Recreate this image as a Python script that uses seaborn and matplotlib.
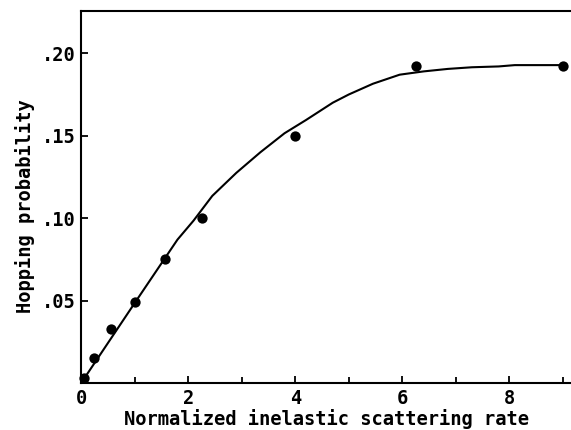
import matplotlib
matplotlib.use("Agg")
import matplotlib.pyplot as plt
import seaborn as sns
import numpy as np
import pandas as pd
from matplotlib.ticker import FixedLocator, FuncFormatter

# measured points (dots)
pts_x = [0.0625, 0.25, 0.5625, 1.0, 1.5625, 2.25, 4.0, 6.25, 9.0]
pts_y = [0.003, 0.0155, 0.033, 0.049, 0.075, 0.100, 0.150, 0.192, 0.192]

# theory curve
curve_x = [0, 1.0, 1.8, 2.1, 2.45, 2.9, 3.35, 3.8, 4.2,
           4.7, 5.0, 5.45, 5.95, 6.4, 6.85, 7.3, 7.8, 8.1, 9.0]
curve_y = [0, 0.0485, 0.087, 0.0985, 0.1135, 0.1275,
           0.140, 0.1515, 0.1595, 0.170, 0.175, 0.1815, 0.187, 0.189,
           0.1905, 0.1915, 0.192, 0.1928, 0.1928]

x_major = [0, 2, 4, 6, 8]
x_minor = [1, 3, 5, 7, 9]
y_major = [0.05, 0.10, 0.15, 0.20]

sns.set_style("ticks")
plt.rcParams['font.family'] = ['DejaVu Sans Mono']
plt.rcParams['font.weight'] = 'bold'
plt.rcParams['axes.labelcolor'] = 'black'
plt.rcParams['text.color'] = 'black'

fig = plt.figure(figsize=(5.71, 4.30), dpi=100)
ax = fig.add_axes([0.142, 0.109, 0.858, 0.865])

curve = pd.DataFrame({'x': curve_x, 'y': curve_y})
pts = pd.DataFrame({'x': pts_x, 'y': pts_y})

sns.lineplot(data=curve, x='x', y='y', ax=ax, color='black', linewidth=1.5)
sns.scatterplot(data=pts, x='x', y='y', ax=ax, color='black', s=55,
                edgecolor='black', linewidth=0, zorder=3, clip_on=False)

ax.set_xlim(0, 9.15)
ax.set_ylim(0, 0.2255)

ax.xaxis.set_major_locator(FixedLocator(x_major))
ax.xaxis.set_minor_locator(FixedLocator(x_minor))
ax.yaxis.set_major_locator(FixedLocator(y_major))
ax.yaxis.set_major_formatter(FuncFormatter(lambda v, p: ('%.2f' % v)[1:]))

ax.tick_params(which='both', direction='in', width=1.3, colors='black',
               labelsize=13.5, pad=4)
ax.tick_params(which='major', length=5)
ax.tick_params(which='minor', length=4)

for s in ['left', 'bottom', 'top']:
    ax.spines[s].set_linewidth(1.5)
    ax.spines[s].set_color('black')
ax.spines['right'].set_visible(False)

ax.set_xlabel('Normalized inelastic scattering rate', fontsize=13.5,
              fontweight='bold', labelpad=1, color='black')
ax.set_ylabel('Hopping probability', fontsize=13.5, fontweight='bold',
              color='black')
ax.yaxis.set_label_coords(-0.095, 0.475)

fig.savefig('out.png', dpi=100)
